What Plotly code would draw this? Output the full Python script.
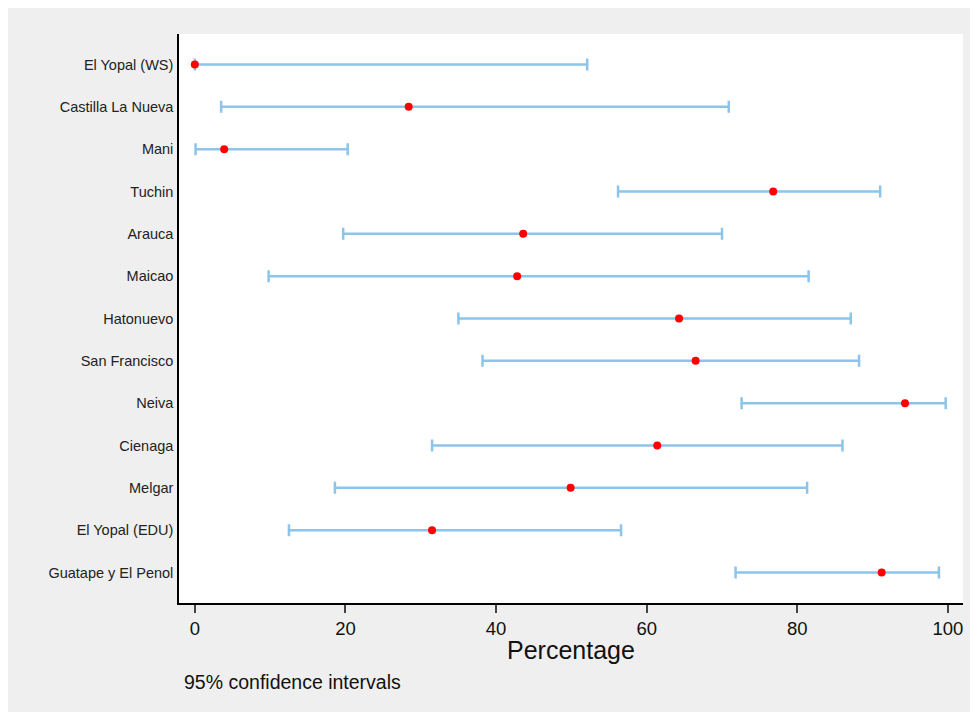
import plotly.graph_objects as go

sites = [
    "El Yopal (WS)", "Castilla La Nueva", "Mani", "Tuchin", "Arauca", "Maicao",
    "Hatonuevo", "San Francisco", "Neiva", "Cienaga", "Melgar", "El Yopal (EDU)",
    "Guatape y El Penol",
]
estimate = [0.0, 28.4, 3.9, 76.8, 43.6, 42.8, 64.3, 66.5, 94.3, 61.4, 49.9, 31.5, 91.2]
lower = [0.0, 3.5, 0.1, 56.2, 19.7, 9.8, 35.0, 38.2, 72.6, 31.5, 18.6, 12.5, 71.8]
upper = [52.1, 70.9, 20.3, 91.0, 70.0, 81.5, 87.1, 88.2, 99.7, 86.0, 81.3, 56.6, 98.8]

x_ticks = [0, 20, 40, 60, 80, 100]

fig = go.Figure()

fig.add_trace(go.Scatter(
    x=estimate,
    y=sites,
    mode="markers",
    marker=dict(color="#ff0000", size=8),
    error_x=dict(
        type="data",
        symmetric=False,
        array=[u - e for u, e in zip(upper, estimate)],
        arrayminus=[e - l for e, l in zip(estimate, lower)],
        color="#8cc4ea",
        thickness=2.5,
        width=6,
    ),
    showlegend=False,
))

fig.add_annotation(text="Percentage", xref="paper", yref="paper", x=0.5, y=-0.0826,
                   showarrow=False, xanchor="center", yanchor="middle",
                   font=dict(size=25, color="#111111"))
fig.add_annotation(text="95% confidence intervals", xref="paper", yref="paper", x=0.0038, y=-0.138,
                   showarrow=False, xanchor="left", yanchor="middle",
                   font=dict(size=19.5, color="#111111"))

# page body keeps its 8px margin, so the grey panel sits inset like the original
fig.update_layout(
    width=963,
    height=704,
    paper_bgcolor="#efefef",
    plot_bgcolor="white",
    margin=dict(l=171, r=8, t=26, b=109),
    font=dict(family="Liberation Sans, Arial", color="#222222"),
    xaxis=dict(
        range=[-2.1, 102.0],
        tickvals=x_ticks,
        ticks="outside",
        ticklen=8,
        tickwidth=1.5,
        tickcolor="#444444",
        tickfont=dict(size=18.5, color="#111111"),
        showgrid=False,
        zeroline=False,
        showline=True,
        linecolor="black",
        linewidth=1.5,
    ),
    yaxis=dict(
        type="category",
        categoryorder="array",
        categoryarray=sites,
        range=[12.72, -0.72],
        showgrid=False,
        zeroline=False,
        showline=True,
        linecolor="black",
        linewidth=1.5,
        ticks="",
        ticklabelstandoff=1,
        tickfont=dict(size=14.5, color="#222222"),
    ),
)

fig.write_html("out.html")
